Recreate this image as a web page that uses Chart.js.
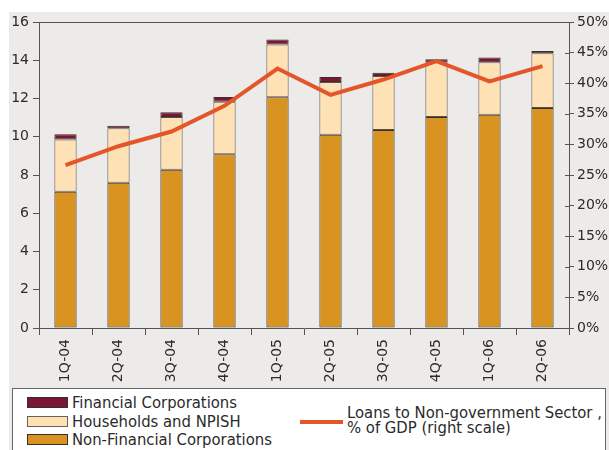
<!DOCTYPE html>
<html>
<head>
<meta charset="utf-8">
<script src="https://cdn.jsdelivr.net/npm/chart.js@4.4.1/dist/chart.umd.min.js"></script>
<style>
  html, body { margin: 0; padding: 0; background: #fff; }
  #wrap { position: relative; width: 609px; height: 450px; overflow: hidden; }
  #bg { position: absolute; left: 9px; top: 12px; width: 600px; height: 438px; background: #ecebe9; }
  #chart { position: absolute; left: 0; top: 0; }
  #legend {
    position: absolute; left: 12px; top: 388px; width: 592px; height: 70px;
    background: #fff; border: 1px solid #666;
    font-family: "DejaVu Sans Condensed", "DejaVu Sans", sans-serif; font-size: 16.5px; color: #2a2a2a;
  }
  .item { position: absolute; left: 14px; height: 19px; line-height: 19px; white-space: nowrap; }
  .sw { position: absolute; left: 0; top: 4px; width: 39px; height: 9px; border: 1px solid #444; }
  .item span.t { position: absolute; left: 45px; top: 0; }
  #lineItem { position: absolute; left: 287px; top: 16px; }
  #lineItem .ln { position: absolute; left: 0; top: 15px; width: 43px; height: 4px; }
  #lineItem .t { position: absolute; left: 47px; top: 0; line-height: 15px; white-space: nowrap; }
</style>
</head>
<body>
<div id="wrap">
  <div id="bg"></div>
  <canvas id="chart" width="609" height="388"></canvas>
  <div id="legend"></div>
</div>
<script>
'use strict';

// quarters on the x axis
const quarters = ['1Q-04', '2Q-04', '3Q-04', '4Q-04', '1Q-05', '2Q-05', '3Q-05', '4Q-05', '1Q-06', '2Q-06'];

// loans by borrower, stacked bars (left scale)
const nonFinancial = [7.13, 7.6, 8.28, 9.08, 12.06, 10.11, 10.35, 11.03, 11.15, 11.5];
const households = [2.73, 2.84, 2.75, 2.75, 2.77, 2.75, 2.83, 2.86, 2.74, 2.86];
const financial = [0.27, 0.14, 0.25, 0.25, 0.25, 0.26, 0.17, 0.16, 0.26, 0.12];

// loans to non-government sector, % of GDP (right scale)
const loansGdp = [26.6, 29.7, 32.1, 36.3, 42.4, 38.1, 40.6, 43.6, 40.3, 42.8];

const leftTicks = [0, 2, 4, 6, 8, 10, 12, 14, 16];
const rightTicks = [0, 5, 10, 15, 20, 25, 30, 35, 40, 45, 50];

const seriesNames = {
  financial: 'Financial Corporations',
  households: 'Households and NPISH',
  nonFinancial: 'Non-Financial Corporations',
  loans: ['Loans to Non-government Sector ,', '% of GDP (right scale)']
};

const colors = {
  financial: '#7a1636',
  households: '#ffe1b6',
  nonFinancial: '#d99320',
  loans: '#e4562a',
  axis: '#555',
  text: '#2b2b2b'
};

// thin frame line along the top of the plot, plus the inner half of the right-hand ticks
const frame = {
  id: 'frame',
  afterDraw(chart) {
    const { ctx, chartArea } = chart;
    const y1 = chart.scales.y1;
    ctx.save();
    ctx.strokeStyle = colors.axis;
    ctx.lineWidth = 1;
    ctx.beginPath();
    ctx.moveTo(chartArea.left, Math.round(chartArea.top) + 0.5);
    ctx.lineTo(chartArea.right, Math.round(chartArea.top) + 0.5);
    y1.ticks.forEach(t => {
      const y = Math.round(y1.getPixelForValue(t.value)) + 0.5;
      ctx.moveTo(chartArea.right - 4, y);
      ctx.lineTo(chartArea.right, y);
    });
    ctx.stroke();
    ctx.restore();
  }
};

const tickFont = { family: '"DejaVu Sans", sans-serif', size: 14 };

const chart = new Chart(document.getElementById('chart'), {
  type: 'bar',
  data: {
    labels: quarters,
    datasets: [{
      type: 'line',
      label: seriesNames.loans.join(' '),
      data: loansGdp,
      yAxisID: 'y1',
      borderColor: colors.loans,
      borderWidth: 4,
      pointRadius: 0,
      tension: 0,
      order: 0
    }, {
      label: seriesNames.nonFinancial,
      data: nonFinancial,
      backgroundColor: colors.nonFinancial,
      borderColor: '#3a2e25',
      order: 1
    }, {
      label: seriesNames.households,
      data: households,
      backgroundColor: colors.households,
      borderColor: '#5a5048',
      order: 1
    }, {
      label: seriesNames.financial,
      data: financial,
      backgroundColor: colors.financial,
      borderColor: '#3a2e25',
      order: 1
    }]
  },
  options: {
    responsive: false,
    animation: false,
    layout: { padding: { top: 22, left: 0, right: 0, bottom: 0 } },
    datasets: {
      bar: {
        borderWidth: 1,
        borderSkipped: false,
        categoryPercentage: 1,
        barPercentage: 0.42
      }
    },
    plugins: {
      legend: { display: false },
      tooltip: { enabled: false }
    },
    scales: {
      x: {
        stacked: true,
        grid: { drawOnChartArea: false, offset: true, tickLength: 7, color: colors.axis },
        border: { color: colors.axis },
        ticks: {
          minRotation: 90, maxRotation: 90, padding: 4,
          font: tickFont, color: colors.text
        },
        afterFit(scale) { scale.height = 60; }
      },
      y: {
        stacked: true,
        min: 0, max: 16,
        afterBuildTicks(scale) { scale.ticks = leftTicks.map(v => ({ value: v })); },
        grid: { drawOnChartArea: false, tickLength: 6, color: colors.axis },
        border: { color: colors.axis },
        ticks: { padding: 4, font: tickFont, color: colors.text },
        afterFit(scale) { scale.width = 39; }
      },
      y1: {
        position: 'right',
        min: 0, max: 50,
        afterBuildTicks(scale) { scale.ticks = rightTicks.map(v => ({ value: v })); },
        grid: { drawOnChartArea: false, tickLength: 5, color: colors.axis },
        border: { color: colors.axis },
        ticks: {
          padding: 3, font: tickFont, color: colors.text,
          callback: v => v + '%'
        },
        afterFit(scale) { scale.width = 40; }
      }
    }
  },
  plugins: [frame]
});

// legend box under the chart
const legend = document.getElementById('legend');
[
  { name: seriesNames.financial, fill: colors.financial, edge: '#3a2e25' },
  { name: seriesNames.households, fill: colors.households, edge: '#6a6058' },
  { name: seriesNames.nonFinancial, fill: colors.nonFinancial, edge: '#3a2e25' }
].forEach((it, i) => {
  const row = document.createElement('div');
  row.className = 'item';
  row.style.top = (4 + i * 18.7) + 'px';
  row.innerHTML = '<span class="sw" style="background:' + it.fill + ';border-color:' + it.edge + '"></span>' +
    '<span class="t">' + it.name + '</span>';
  legend.appendChild(row);
});
const li = document.createElement('div');
li.id = 'lineItem';
li.innerHTML = '<span class="ln" style="background:' + colors.loans + '"></span>' +
  '<span class="t">' + seriesNames.loans.join('<br>') + '</span>';
legend.appendChild(li);
</script>
</body>
</html>
